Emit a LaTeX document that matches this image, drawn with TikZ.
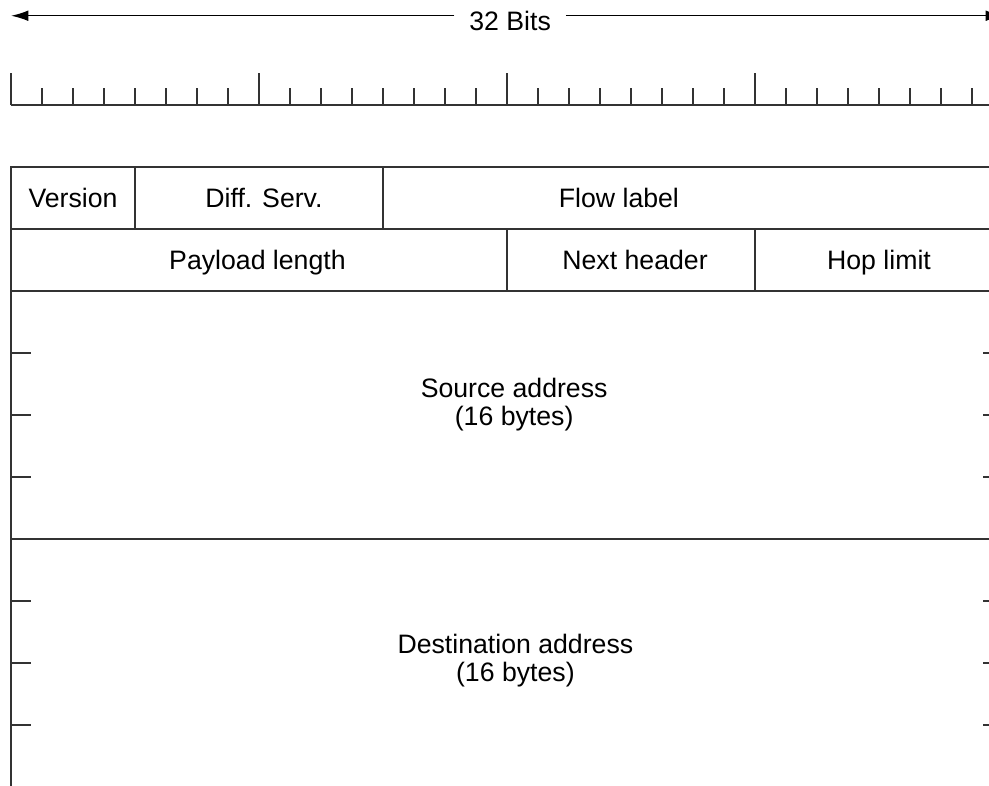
\documentclass[tikz,border=0pt]{standalone}
\usepackage{fontspec}
\setmainfont{Liberation Sans}
\usetikzlibrary{arrows.meta,positioning}
\definecolor{rulegray}{HTML}{333333}
\tikzset{
  frame/.style={draw=rulegray, line width=1.4pt},
  tick/.style={draw=rulegray, line width=1.2pt},
  widtharrow/.style={draw=black, line width=1.1pt, -{Latex[length=13pt,width=8pt]}},
  field/.style={inner sep=0pt, text=black},
}

\begin{document}
\begin{tikzpicture}[x=23.25pt, y=-46.5pt, font=\fontsize{20}{21}\selectfont]
\useasboundingbox (-0.355,-2.694) rectangle (31.548,9.968);
\clip (-0.355,-2.694) rectangle (31.548,9.968);

% word width
\coordinate (lend) at (0,-2.44);
\coordinate (rend) at (32,-2.44);
\node[field, inner xsep=11pt] (bits) at (16.1,-2.35) {32 Bits};
\draw[widtharrow] (bits.west |- lend) -- (lend);
\draw[widtharrow] (bits.east |- rend) -- (rend);

% bit ruler
\draw[tick] (0,-1) -- (32,-1);
\foreach \b in {0,...,31}
  \draw[tick] (\b,-1) -- ++(0,-0.28);
\foreach \b in {0,8,16,24}
  \draw[tick] (\b,-1) -- ++(0,-0.52);

% header layout
\draw[frame] (0,0) rectangle (32,10.3);
\draw[frame] (0,1) -- (32,1);
\draw[frame] (0,2) -- (32,2);
\draw[frame] (0,6) -- (32,6);
\draw[frame] (4,0) -- (4,1);
\draw[frame] (12,0) -- (12,1);
\draw[frame] (16,1) -- (16,2);
\draw[frame] (24,1) -- (24,2);
\foreach \r in {3,4,5,7,8,9} {
  \draw[frame] (0,\r) -- ++(0.65,0);
  \draw[frame] (32,\r) -- ++(-0.65,0);
}

% fields
\node[field] (version) at (2,0.5) {Version};
\node[field] (diffserv) at (8.16,0.5) {Diff. Serv.};
\node[field] (flowlabel) at (19.61,0.5) {Flow label};
\node[field, text height=14.3pt, text depth=0pt] (payload) at (7.95,1.5) {Payload length};
\node[field, text height=14.3pt, text depth=0pt] (nexthdr) at (20.13,1.5) {Next header};
\node[field, text height=14.3pt, text depth=0pt] (hoplimit) at (28,1.5) {Hop limit};
\node[field, align=center] (srcaddr) at (16.23,3.83) {Source address\\(16 bytes)};
\node[field, align=center] (dstaddr) at (16.27,7.96) {Destination address\\(16 bytes)};
\end{tikzpicture}
\end{document}
